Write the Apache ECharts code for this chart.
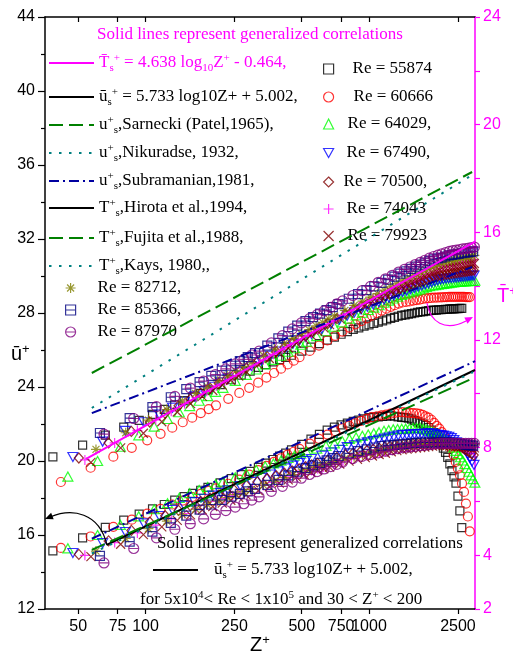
<!DOCTYPE html>
<html>
<head>
<meta charset="utf-8">
<script src="https://cdn.jsdelivr.net/npm/echarts@6/dist/echarts.min.js"></script>
<style>
  html, body { margin: 0; padding: 0; background: #ffffff; }
  #chart { width: 513px; height: 662px; }
</style>
</head>
<body>
<div id="chart"></div>
<script>
// Probe positions (Z+) of the Re = 55874 traverse; the other runs use the same
// probe stations, stretched by their own wall-unit factor (zScale).
const zPlusGrid = [
  38.5, 52.3, 66.1, 79.9, 93.7, 107.5, 121.3, 135.1, 148.9, 162.7,
  176.5, 190.3, 216, 242, 268, 294, 320, 346, 372, 398,
  424, 450, 500, 550, 600, 650, 700, 750, 800, 850,
  900, 950, 1000, 1050, 1100, 1150, 1200, 1250, 1300, 1350,
  1400, 1450, 1500, 1550, 1600, 1650, 1700, 1750, 1800, 1850,
  1900, 1950, 2000, 2050, 2100, 2150, 2200, 2250, 2300, 2350,
  2400, 2450, 2500, 2550, 2600
];
const reNumbers = ['55874', '60666', '64029', '67490', '70500', '74043', '79923', '82712', '85366', '87970'];
const zScale = [1, 1.086, 1.167, 1.229, 1.307, 1.391, 1.480, 1.559, 1.624, 1.693];

// Mean temperature profiles, T+ (right axis)
const tPlus55874 = [
  7.65, 8.09, 8.46, 8.76, 9.01, 9.23, 9.42, 9.59, 9.74, 9.88,
  10.01, 10.14, 10.34, 10.52, 10.69, 10.84, 10.98, 11.08, 11.18, 11.27,
  11.35, 11.43, 11.58, 11.73, 11.86, 11.99, 12.10, 12.21, 12.31, 12.39,
  12.45, 12.51, 12.56, 12.61, 12.66, 12.71, 12.75, 12.80, 12.84, 12.88,
  12.91, 12.93, 12.96, 12.98, 13.00, 13.02, 13.04, 13.05, 13.07, 13.09,
  13.10, 13.11, 13.11, 13.12, 13.12, 13.13, 13.14, 13.14, 13.15, 13.15,
  13.15, 13.16, 13.16, 13.17, 13.17
];
const tPlus60666 = [
  6.72, 7.25, 7.66, 7.99, 8.27, 8.51, 8.74, 8.94, 9.11, 9.28,
  9.43, 9.57, 9.81, 10.03, 10.22, 10.41, 10.60, 10.77, 10.93, 11.09,
  11.23, 11.36, 11.59, 11.79, 11.98, 12.15, 12.31, 12.46, 12.58, 12.70,
  12.80, 12.90, 13.00, 13.09, 13.16, 13.23, 13.29, 13.35, 13.39, 13.41,
  13.43, 13.46, 13.48, 13.50, 13.52, 13.54, 13.55, 13.56, 13.57, 13.57,
  13.58, 13.58, 13.59, 13.59, 13.60, 13.60, 13.60, 13.60, 13.60, 13.60,
  13.60, 13.60, 13.59, 13.59, 13.59
];
const tPlus64029 = [
  6.92, 7.50, 8.03, 8.45, 8.78, 9.06, 9.31, 9.54, 9.74, 9.91,
  10.07, 10.22, 10.48, 10.70, 10.90, 11.09, 11.26, 11.41, 11.56, 11.69,
  11.82, 11.93, 12.14, 12.32, 12.49, 12.65, 12.79, 12.91, 13.01, 13.11,
  13.20, 13.29, 13.38, 13.46, 13.54, 13.61, 13.67, 13.72, 13.76, 13.80,
  13.84, 13.88, 13.92, 13.96, 14.00, 14.02, 14.03, 14.05, 14.07, 14.08,
  14.10, 14.11, 14.13, 14.14, 14.15, 14.16, 14.16, 14.17, 14.17, 14.18,
  14.18, 14.19, 14.19, 14.20, 14.20
];
const tPlus67490 = [
  7.65, 8.22, 8.62, 8.94, 9.23, 9.48, 9.70, 9.90, 10.09, 10.26,
  10.42, 10.56, 10.81, 11.03, 11.23, 11.41, 11.57, 11.72, 11.86, 11.99,
  12.11, 12.22, 12.41, 12.59, 12.75, 12.90, 13.02, 13.13, 13.23, 13.32,
  13.41, 13.50, 13.57, 13.65, 13.72, 13.78, 13.83, 13.88, 13.93, 13.98,
  14.02, 14.06, 14.10, 14.14, 14.18, 14.22, 14.25, 14.26, 14.28, 14.29,
  14.30, 14.31, 14.32, 14.33, 14.34, 14.35, 14.36, 14.37, 14.38, 14.39,
  14.39, 14.40
];
const tPlus70500 = [
  7.61, 8.17, 8.60, 8.95, 9.27, 9.55, 9.80, 10.02, 10.21, 10.39,
  10.55, 10.70, 10.95, 11.18, 11.38, 11.56, 11.73, 11.89, 12.03, 12.16,
  12.29, 12.40, 12.61, 12.79, 12.96, 13.11, 13.23, 13.34, 13.45, 13.55,
  13.64, 13.73, 13.82, 13.90, 13.95, 14.01, 14.06, 14.11, 14.16, 14.20,
  14.25, 14.29, 14.33, 14.37, 14.40, 14.42, 14.44, 14.45, 14.47, 14.48,
  14.50, 14.51, 14.53, 14.54, 14.55, 14.57, 14.58, 14.59, 14.60
];
const tPlus74043 = [
  7.54, 8.17, 8.64, 9.03, 9.35, 9.63, 9.87, 10.09, 10.29, 10.47,
  10.63, 10.78, 11.03, 11.26, 11.47, 11.65, 11.82, 11.98, 12.13, 12.26,
  12.39, 12.51, 12.72, 12.91, 13.08, 13.23, 13.36, 13.49, 13.61, 13.72,
  13.83, 13.93, 14.02, 14.10, 14.18, 14.26, 14.33, 14.40, 14.46, 14.53,
  14.59, 14.65, 14.70, 14.73, 14.76, 14.78, 14.81, 14.83, 14.86, 14.88,
  14.90, 14.92, 14.94, 14.96, 14.98, 15.00
];
const tPlus79923 = [
  7.45, 7.99, 8.53, 8.96, 9.32, 9.63, 9.90, 10.12, 10.32, 10.50,
  10.66, 10.82, 11.08, 11.31, 11.52, 11.70, 11.88, 12.04, 12.18, 12.32,
  12.45, 12.57, 12.79, 12.98, 13.14, 13.29, 13.43, 13.55, 13.67, 13.78,
  13.89, 13.98, 14.06, 14.14, 14.21, 14.28, 14.35, 14.41, 14.48, 14.54,
  14.59, 14.62, 14.65, 14.67, 14.69, 14.71, 14.73, 14.75, 14.77, 14.79,
  14.81, 14.83, 14.84, 14.85
];
const tPlus82712 = [
  7.93, 8.55, 9.02, 9.41, 9.73, 10.01, 10.26, 10.48, 10.67, 10.85,
  11.02, 11.17, 11.43, 11.66, 11.87, 12.06, 12.23, 12.38, 12.52, 12.65,
  12.78, 12.89, 13.10, 13.28, 13.44, 13.59, 13.72, 13.85, 13.97, 14.08,
  14.18, 14.27, 14.36, 14.44, 14.52, 14.60, 14.67, 14.74, 14.80, 14.86,
  14.89, 14.92, 14.95, 14.97, 15.00, 15.03, 15.05, 15.07, 15.10, 15.12,
  15.14, 15.16
];
const tPlus85366 = [
  8.54, 9.09, 9.50, 9.87, 10.17, 10.43, 10.66, 10.86, 11.04, 11.21,
  11.36, 11.51, 11.79, 12.06, 12.31, 12.53, 12.70, 12.85, 12.98, 13.11,
  13.22, 13.33, 13.53, 13.70, 13.85, 13.99, 14.12, 14.24, 14.35, 14.46,
  14.55, 14.64, 14.72, 14.80, 14.87, 14.94, 14.99, 15.03, 15.06, 15.10,
  15.14, 15.16, 15.18, 15.20, 15.22, 15.24, 15.25, 15.27, 15.29, 15.30
];
const tPlus87970 = [
  8.50, 9.08, 9.52, 9.90, 10.21, 10.47, 10.71, 10.92, 11.11, 11.28,
  11.44, 11.58, 11.89, 12.16, 12.41, 12.63, 12.79, 12.94, 13.08, 13.21,
  13.34, 13.45, 13.65, 13.83, 13.99, 14.14, 14.27, 14.40, 14.52, 14.62,
  14.71, 14.80, 14.88, 14.96, 15.04, 15.10, 15.15, 15.20, 15.24, 15.29,
  15.32, 15.34, 15.36, 15.38, 15.39, 15.41, 15.43, 15.45, 15.45
];

// Mean velocity profiles, u+ (left axis)
const uPlus55874 = [
  15.14, 15.84, 16.41, 16.80, 17.13, 17.41, 17.65, 17.88, 18.07, 18.25,
  18.42, 18.57, 18.82, 19.05, 19.26, 19.44, 19.66, 19.88, 20.08, 20.26,
  20.43, 20.60, 20.90, 21.18, 21.44, 21.67, 21.83, 21.95, 22.05, 22.14,
  22.21, 22.28, 22.34, 22.37, 22.39, 22.41, 22.43, 22.45, 22.42, 22.39,
  22.36, 22.34, 22.31, 22.26, 22.19, 22.12, 22.05, 21.99, 21.92, 21.81,
  21.67, 21.53, 21.39, 21.18, 20.94, 20.70, 20.47, 20.20, 19.84, 19.48,
  19.14, 18.80, 18.10, 17.30, 16.40
];
const uPlus60666 = [
  15.30, 15.92, 16.44, 16.83, 17.15, 17.41, 17.65, 17.86, 18.05, 18.22,
  18.38, 18.52, 18.77, 18.99, 19.26, 19.51, 19.74, 19.95, 20.15, 20.34,
  20.50, 20.66, 20.94, 21.20, 21.43, 21.61, 21.77, 21.91, 22.04, 22.17,
  22.28, 22.37, 22.42, 22.47, 22.51, 22.56, 22.60, 22.64, 22.64, 22.62,
  22.60, 22.59, 22.57, 22.55, 22.49, 22.41, 22.34, 22.23, 22.06, 21.90,
  21.75, 21.56, 21.36, 21.17, 20.99, 20.70, 20.32, 19.95, 19.59, 19.23,
  18.79, 18.33, 17.70, 17.00, 16.20
];
const uPlus64029 = [
  15.28, 16.00, 16.55, 17.01, 17.39, 17.72, 18.01, 18.26, 18.43, 18.60,
  18.75, 18.89, 19.12, 19.33, 19.53, 19.71, 19.87, 20.02, 20.16, 20.29,
  20.41, 20.51, 20.67, 20.82, 20.95, 21.08, 21.19, 21.28, 21.36, 21.43,
  21.50, 21.56, 21.63, 21.68, 21.71, 21.73, 21.74, 21.75, 21.76, 21.78,
  21.79, 21.80, 21.74, 21.69, 21.63, 21.58, 21.53, 21.45, 21.34, 21.24,
  21.14, 21.05, 20.91, 20.72, 20.55, 20.37, 20.20, 20.03, 19.83, 19.62,
  19.42, 19.22, 19.02, 18.83, 18.64
];
const uPlus67490 = [
  15.03, 15.56, 16.16, 16.63, 17.03, 17.35, 17.58, 17.78, 17.96, 18.13,
  18.28, 18.42, 18.65, 18.87, 19.08, 19.27, 19.44, 19.60, 19.75, 19.89,
  20.00, 20.11, 20.29, 20.46, 20.61, 20.75, 20.85, 20.93, 21.01, 21.08,
  21.15, 21.21, 21.27, 21.32, 21.38, 21.41, 21.42, 21.44, 21.45, 21.46,
  21.47, 21.48, 21.49, 21.49, 21.45, 21.42, 21.40, 21.37, 21.34, 21.31,
  21.24, 21.13, 21.01, 20.90, 20.79, 20.68, 20.56, 20.36, 20.17, 19.97,
  19.79, 19.60
];
const uPlus70500 = [
  14.95, 15.68, 16.25, 16.70, 17.04, 17.33, 17.59, 17.82, 17.99, 18.16,
  18.31, 18.44, 18.68, 18.87, 19.04, 19.20, 19.34, 19.47, 19.58, 19.69,
  19.79, 19.88, 20.04, 20.19, 20.33, 20.43, 20.50, 20.57, 20.63, 20.69,
  20.75, 20.80, 20.85, 20.90, 20.91, 20.92, 20.93, 20.94, 20.95, 20.96,
  20.97, 20.98, 20.99, 20.99, 20.99, 20.96, 20.94, 20.91, 20.88, 20.85,
  20.83, 20.80, 20.72, 20.64, 20.56, 20.48, 20.40, 20.32, 20.25
];
const uPlus74043 = [
  14.90, 15.59, 16.11, 16.53, 16.87, 17.16, 17.42, 17.63, 17.81, 17.97,
  18.12, 18.26, 18.49, 18.68, 18.85, 19.00, 19.14, 19.27, 19.38, 19.49,
  19.58, 19.68, 19.84, 19.99, 20.12, 20.21, 20.30, 20.38, 20.45, 20.52,
  20.59, 20.65, 20.71, 20.74, 20.76, 20.79, 20.82, 20.84, 20.87, 20.89,
  20.91, 20.93, 20.95, 20.93, 20.92, 20.90, 20.89, 20.87, 20.86, 20.84,
  20.78, 20.73, 20.68, 20.63, 20.58, 20.54
];
const uPlus79923 = [
  14.83, 15.50, 16.02, 16.44, 16.79, 17.09, 17.35, 17.54, 17.72, 17.88,
  18.03, 18.17, 18.40, 18.61, 18.80, 18.98, 19.13, 19.27, 19.38, 19.48,
  19.58, 19.67, 19.84, 19.99, 20.09, 20.18, 20.27, 20.35, 20.42, 20.50,
  20.56, 20.61, 20.64, 20.67, 20.70, 20.73, 20.75, 20.78, 20.80, 20.83,
  20.85, 20.84, 20.82, 20.81, 20.80, 20.79, 20.77, 20.76, 20.75, 20.74,
  20.73, 20.72, 20.71, 20.70
];
const uPlus82712 = [
  15.13, 15.81, 16.34, 16.75, 17.10, 17.40, 17.64, 17.84, 18.02, 18.18,
  18.33, 18.46, 18.70, 18.91, 19.10, 19.27, 19.42, 19.55, 19.66, 19.76,
  19.86, 19.95, 20.12, 20.25, 20.35, 20.44, 20.53, 20.61, 20.68, 20.76,
  20.81, 20.84, 20.86, 20.88, 20.91, 20.93, 20.95, 20.97, 20.99, 21.00,
  20.99, 20.98, 20.97, 20.96, 20.95, 20.95, 20.94, 20.93, 20.92, 20.92,
  20.91, 20.90
];
const uPlus85366 = [
  14.87, 15.64, 16.18, 16.66, 17.05, 17.37, 17.65, 17.90, 18.07, 18.22,
  18.36, 18.49, 18.71, 18.98, 19.22, 19.43, 19.61, 19.76, 19.90, 20.03,
  20.16, 20.27, 20.41, 20.53, 20.63, 20.73, 20.81, 20.84, 20.87, 20.90,
  20.93, 20.96, 20.98, 21.00, 21.00, 21.00, 21.00, 21.00, 21.00, 21.00,
  21.00, 20.99, 20.96, 20.94, 20.92, 20.89, 20.87, 20.85, 20.83, 20.81
];
const uPlus87970 = [
  14.49, 15.27, 15.85, 16.31, 16.61, 16.87, 17.11, 17.32, 17.51, 17.69,
  17.89, 18.06, 18.36, 18.63, 18.86, 19.07, 19.27, 19.43, 19.57, 19.70,
  19.82, 19.94, 20.13, 20.25, 20.35, 20.44, 20.53, 20.61, 20.68, 20.73,
  20.76, 20.79, 20.83, 20.85, 20.88, 20.91, 20.94, 20.95, 20.95, 20.95,
  20.95, 20.95, 20.95, 20.95, 20.95, 20.95, 20.95, 20.95, 20.95
];

// Generalized correlations (from the legend): value = slope*log10(Z+) + intercept
const tsFit = { slope: 4.638, intercept: -0.464, zRange: [54, 2980] };
const usFit = { slope: 5.733, intercept: 5.002, zRange: [67, 2980] };

// Literature correlations, end points [Z+, value]
const sarneckiU = [[57.5, 15.2], [2833, 24.4]];
const nikuradseU = [[57.5, 15.0], [2923, 24.8]];
const subramanianU = [[57.5, 15.8], [2984, 25.4]];
const subramanianUpper = [[57.5, 9.28], [2893, 14.71]];
const fujitaT = [[57.5, 10.77], [2893, 18.24]];
const kaysT = [[57.5, 9.47], [2893, 18.13]];
const hirotaT = [];

// Axis ticks
const zTicks = [50, 75, 100, 250, 500, 750, 1000, 2500];
const tLabelTicks = [2, 4, 8, 12, 16, 20, 24];

const SERIF = "'Liberation Serif', 'Times New Roman', serif";
const SANS = "'Liberation Sans', Arial, sans-serif";

const tRuns = [tPlus55874, tPlus60666, tPlus64029, tPlus67490, tPlus70500, tPlus74043, tPlus79923, tPlus82712, tPlus85366, tPlus87970];
const uRuns = [uPlus55874, uPlus60666, uPlus64029, uPlus67490, uPlus70500, uPlus74043, uPlus79923, uPlus82712, uPlus85366, uPlus87970];

const runStyle = [
  { color: '#000000', symbol: 'rect', size: 8 },
  { color: '#ff0000', symbol: 'circle', size: 9 },
  { color: '#00ff00', symbol: 'triangle', size: [10, 9] },
  { color: '#0000ff', symbol: 'path://M0,0L10,0L5,9Z', size: [10, 9] },
  { color: '#800000', symbol: 'diamond', size: [9, 10] },
  { color: '#ff00ff', symbol: 'path://M5,0V10M0,5H10', size: 10 },
  { color: '#800000', symbol: 'path://M0,0L10,10M10,0L0,10', size: 9 },
  { color: '#808000', symbol: 'path://M5,0V10M0,5H10M1.5,1.5L8.5,8.5M8.5,1.5L1.5,8.5', size: 10 },
  { color: '#000080', symbol: 'path://M0,0H10V10H0ZM0,5H10', size: 9 },
  { color: '#800080', symbol: 'path://M0,5A5,5,0,1,1,10,5A5,5,0,1,1,0,5ZM0,5H10', size: 10 }
];

const series = [];
reNumbers.forEach((re, k) => {
  const st = runStyle[k];
  const toPoints = vals => vals.map((v, i) => [zPlusGrid[i] * zScale[k], v]);
  const common = {
    type: 'scatter',
    name: 'Re = ' + re,
    symbol: st.symbol,
    symbolSize: st.size,
    itemStyle: { color: 'rgba(0,0,0,0)', borderColor: st.color, borderWidth: 1.2 },
    emphasis: { disabled: true },
    z: 2
  };
  series.push(Object.assign({}, common, { yAxisIndex: 1, data: toPoints(tRuns[k]) }));
  series.push(Object.assign({}, common, { yAxisIndex: 0, data: toPoints(uRuns[k]) }));
});

const fitPoints = f => f.zRange.map(z => [z, f.slope * Math.log10(z) + f.intercept]);

function lineSeries(name, axis, data, color, type, width) {
  return {
    type: 'line', name: name, yAxisIndex: axis, data: data,
    symbol: 'none', color: color,
    lineStyle: { color: color, width: width, type: type },
    emphasis: { disabled: true }, z: 4
  };
}
const DASH = [14, 6];
const DOT = [2.5, 7.5];
const DASHDOT = [10, 4, 2, 4];
series.push(
  lineSeries('Ts', 1, fitPoints(tsFit), '#ff00ff', 'solid', 2),
  lineSeries('us', 0, fitPoints(usFit), '#000000', 'solid', 2),
  lineSeries('Sarnecki', 0, sarneckiU, '#008000', DASH, 2),
  lineSeries('Nikuradse', 0, nikuradseU, '#008080', DOT, 2),
  lineSeries('Subramanian', 0, subramanianU, '#0000a0', DASHDOT, 2),
  lineSeries('Subramanian', 1, subramanianUpper, '#0000a0', DASHDOT, 2),
  lineSeries('Hirota', 1, hirotaT, '#000000', 'solid', 2),
  lineSeries('Fujita', 1, fujitaT, '#008000', DASH, 2),
  lineSeries('Kays', 1, kaysT, '#008080', DOT, 2)
);

function richFor(color) {
  return {
    sup: { fontFamily: SERIF, fontSize: 11, lineHeight: 12, padding: [0, 0, 10, 0], color: color },
    sub: { fontFamily: SERIF, fontSize: 11, lineHeight: 12, padding: [10, 0, 0, 0], color: color }
  };
}

const legendRows = [
  { name: 'Ts', label: 'T\u0304{sub|s}{sup|+} = 4.638 log{sub|10}Z{sup|+} - 0.464,', left: 48, y: 63, color: '#ff00ff', w: 45, pad: 0 },
  { name: 'us', label: '\u016b{sub|s}{sup|+} = 5.733 log10Z+ + 5.002,', left: 48, y: 97, color: '#000000', w: 45, pad: 0 },
  { name: 'Sarnecki', label: 'u{sup|+}{sub|s},Sarnecki (Patel,1965),', left: 48, y: 125, color: '#000000', w: 45, pad: 0 },
  { name: 'Nikuradse', label: 'u{sup|+}{sub|s},Nikuradse, 1932,', left: 48, y: 153, color: '#000000', w: 45, pad: 0 },
  { name: 'Subramanian', label: 'u{sup|+}{sub|s},Subramanian,1981,', left: 48, y: 181, color: '#000000', w: 45, pad: 0 },
  { name: 'Hirota', label: 'T{sup|+}{sub|s},Hirota et al.,1994,', left: 48, y: 208, color: '#000000', w: 45, pad: 0 },
  { name: 'Fujita', label: 'T{sup|+}{sub|s},Fujita et al.,1988,', left: 48, y: 238, color: '#000000', w: 45, pad: 0 },
  { name: 'Kays', label: 'T{sup|+}{sub|s},Kays, 1980,,', left: 48, y: 266, color: '#000000', w: 45, pad: 0 },
  { name: 'Re = 82712', label: 'Re = 82712,', left: 65, y: 288, color: '#000000', sym: 7, pad: 17 },
  { name: 'Re = 85366', label: 'Re = 85366,', left: 65, y: 310, color: '#000000', sym: 8, pad: 17 },
  { name: 'Re = 87970', label: 'Re = 87970', left: 65, y: 332, color: '#000000', sym: 9, pad: 17 },
  { name: 'Re = 55874', label: 'Re = 55874', left: 323, y: 69, color: '#000000', sym: 0, pad: 14 },
  { name: 'Re = 60666', label: 'Re = 60666', left: 323, y: 97, color: '#000000', sym: 1, pad: 15 },
  { name: 'Re = 64029', label: 'Re = 64029,', left: 323, y: 124, color: '#000000', sym: 2, pad: 9 },
  { name: 'Re = 67490', label: 'Re = 67490,', left: 323, y: 153, color: '#000000', sym: 3, pad: 8 },
  { name: 'Re = 70500', label: 'Re = 70500,', left: 323, y: 182, color: '#000000', sym: 4, pad: 5 },
  { name: 'Re = 74043', label: 'Re = 74043', left: 323, y: 209, color: '#000000', sym: 5, pad: 8 },
  { name: 'Re = 79923', label: 'Re = 79923', left: 323, y: 236, color: '#000000', sym: 6, pad: 9 },
  { name: 'us', label: '\u016b{sub|s}{sup|+} = 5.733 log10Z+ + 5.002,', left: 152, y: 570, color: '#000000', w: 45, pad: 11 }
];

const legends = legendRows.map(r => {
  const isSym = r.sym !== undefined;
  const lg = {
    data: [r.name],
    left: r.left,
    top: r.y - 11,
    padding: 0,
    itemGap: 0,
    itemWidth: isSym ? 10 : r.w,
    itemHeight: isSym ? 10 : 14,
    selectedMode: false,
    formatter: () => r.label,
    textStyle: {
      fontFamily: SERIF, fontSize: 17, lineHeight: 22, color: r.color,
      padding: [0, 0, 0, r.pad], rich: richFor(r.color)
    }
  };
  if (isSym) {
    lg.itemStyle = { color: 'rgba(0,0,0,0)', borderColor: runStyle[r.sym].color, borderWidth: 1.2 };
  } else {
    // line samples only: hide the marker the line legend adds in the middle
    lg.itemStyle = { color: 'rgba(0,0,0,0)', borderColor: 'rgba(0,0,0,0)', borderWidth: 0, opacity: 0 };
  }
  return lg;
});

const axisFont = { fontFamily: SANS, fontSize: 16 };

const option = {
  animation: false,
  backgroundColor: '#ffffff',
  grid: { left: 45, right: 38, top: 17, bottom: 53, outerBoundsMode: 'none', containLabel: false },
  legend: legends,
  xAxis: [
    {
      type: 'log', logBase: 10, min: 35.5, max: 2980, position: 'bottom',
      axisLine: { lineStyle: { color: '#000000', width: 1.5 } },
      axisTick: { customValues: zTicks, length: 5, lineStyle: { color: '#000000', width: 1.2 } },
      axisLabel: Object.assign({ customValues: zTicks, color: '#000000', margin: 10, formatter: v => String(Math.round(v)) }, axisFont),
      splitLine: { show: false },
      name: '{m|Z}{s|+}', nameLocation: 'middle', nameGap: 24, nameMoveOverlap: false,
      nameTextStyle: {
        rich: {
          m: { fontFamily: SANS, fontSize: 20, lineHeight: 24, color: '#000000' },
          s: { fontFamily: SANS, fontSize: 13, lineHeight: 14, padding: [0, 0, 10, 0], color: '#000000' }
        }
      }
    },
    {
      type: 'log', logBase: 10, min: 35.5, max: 2980, position: 'top',
      axisLine: { lineStyle: { color: '#000000', width: 1.5 } },
      axisTick: { customValues: zTicks, inside: true, length: 5, lineStyle: { color: '#000000', width: 1.2 } },
      axisLabel: { show: false },
      splitLine: { show: false }
    }
  ],
  yAxis: [
    {
      type: 'value', min: 12, max: 44, interval: 4, position: 'left',
      axisLine: { show: true, lineStyle: { color: '#000000', width: 1.5 } },
      axisTick: { show: true, length: 7, lineStyle: { color: '#000000', width: 1.2 } },
      minorTick: { show: true, splitNumber: 2, length: 4, lineStyle: { color: '#000000', width: 1.2 } },
      axisLabel: Object.assign({ color: '#000000', margin: 10 }, axisFont),
      splitLine: { show: false }
    },
    {
      type: 'value', min: 2, max: 24, interval: 2, position: 'right',
      axisLine: { show: true, lineStyle: { color: '#ff00ff', width: 1.5 } },
      axisTick: { show: true, length: 5, lineStyle: { color: '#ff00ff', width: 1.2 } },
      axisLabel: Object.assign({
        color: '#ff00ff', margin: 8,
        formatter: v => (tLabelTicks.indexOf(v) >= 0 ? String(v) : '')
      }, axisFont),
      splitLine: { show: false }
    }
  ],
  graphic: [
    {
      type: 'text', x: 97, y: 35, z: 10,
      style: { text: 'Solid lines represent generalized correlations', fill: '#ff00ff', font: '17px ' + SERIF, verticalAlign: 'middle' }
    },
    {
      type: 'text', x: 157, y: 544, z: 10,
      style: { text: 'Solid lines represent generalized correlations', fill: '#000000', font: '17px ' + SERIF, verticalAlign: 'middle' }
    },
    {
      type: 'text', x: 140, y: 600, z: 10,
      style: {
        text: 'for 5x10{sup|4}< Re < 1x10{sup|5} and 30 < Z{sup|+} < 200',
        fill: '#000000', fontFamily: SERIF, fontSize: 17, lineHeight: 22, verticalAlign: 'middle',
        rich: { sup: { fontFamily: SERIF, fontSize: 11, lineHeight: 12, padding: [0, 0, 10, 0], fill: '#000000' } }
      }
    },
    {
      type: 'text', x: 11, y: 354, z: 10,
      style: {
        text: '{m|\u016b}{s|+}', verticalAlign: 'middle',
        rich: {
          m: { fontFamily: SANS, fontSize: 20, lineHeight: 24, fill: '#000000' },
          s: { fontFamily: SANS, fontSize: 13, lineHeight: 14, padding: [0, 0, 10, 0], fill: '#000000' }
        }
      }
    },
    {
      type: 'text', x: 497, y: 296, z: 10,
      style: {
        text: '{m|T\u0304}{s|+}', verticalAlign: 'middle',
        rich: {
          m: { fontFamily: SANS, fontSize: 20, lineHeight: 24, fill: '#ff00ff' },
          s: { fontFamily: SANS, fontSize: 13, lineHeight: 14, padding: [0, 0, 10, 0], fill: '#ff00ff' }
        }
      }
    },
    {
      type: 'bezierCurve', z: 10,
      shape: { x1: 107, y1: 545, cpx1: 99, cpy1: 512, cpx2: 72, cpy2: 508, x2: 50, y2: 517 },
      style: { stroke: '#000000', lineWidth: 1.3, fill: null }
    },
    {
      type: 'polygon', z: 10,
      shape: { points: [[45, 519], [53.7, 519.2], [51.1, 512.8]] },
      style: { fill: '#000000' }
    },
    {
      type: 'bezierCurve', z: 10,
      shape: { x1: 427, y1: 303, cpx1: 430, cpy1: 322, cpx2: 445, cpy2: 332, x2: 466, y2: 321 },
      style: { stroke: '#ff00ff', lineWidth: 1.3, fill: null }
    },
    {
      type: 'polygon', z: 10,
      shape: { points: [[473, 317], [467.5, 323.8], [464.3, 317.6]] },
      style: { fill: '#ff00ff' }
    }
  ],
  series: series
};

const chart = echarts.init(document.getElementById('chart'));
chart.setOption(option);
</script>
</body>
</html>
